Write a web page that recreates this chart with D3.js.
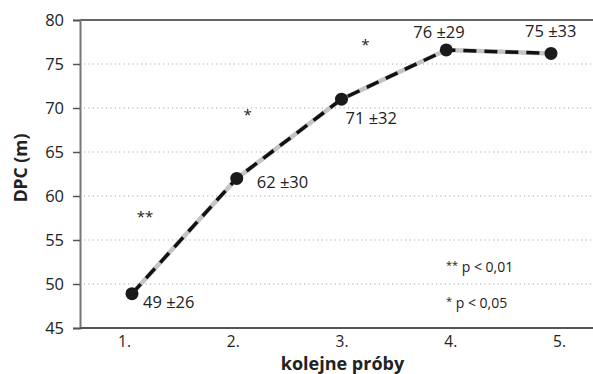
<!DOCTYPE html>
<html><head><meta charset="utf-8">
<script src="https://cdn.jsdelivr.net/npm/d3@7"></script>
<style>body{margin:0;background:#fff}svg{display:block}text{font-family:"Open Sans","Noto Sans",sans-serif;fill:#222}</style>
</head><body>
<svg id="c" width="593" height="374"></svg>
<script>
const categories = ["1.", "2.", "3.", "4.", "5."];
const values = [48.9, 62, 71, 76.6, 76.2];
const labels = ["49 ±26", "62 ±30", "71 ±32", "76 ±29", "75 ±33"];
const yTicks = [45, 50, 55, 60, 65, 70, 75, 80];
const stars = ["**", "*", "*"];
const starValues = [58, 69.5, 77.5];
const legendStars = ["**", "*"];
const legendTexts = [" p < 0,01", " p < 0,05"];

(function () {
const svg = d3.select("#c");
const mLeft = 80, mRight = 593, mTop = 20, mBottom = 328;
const x = d3.scalePoint().domain(categories).range([132, 551]);
const y = d3.scaleLinear().domain([45, 80]).range([mBottom, mTop]);

// gridlines
svg.append("g").selectAll("line").data(yTicks.filter(t => t > 45 && t < 80)).join("line")
  .attr("x1", mLeft + 4).attr("x2", mRight).attr("y1", d => y(d)).attr("y2", d => y(d))
  .attr("stroke", "#a8a8a8").attr("stroke-width", 1.2).attr("stroke-dasharray", "1.2,3.2");

// top line
svg.append("line").attr("x1", mLeft).attr("x2", mRight).attr("y1", y(80)).attr("y2", y(80))
  .attr("stroke", "#333").attr("stroke-width", 1.5);

// y axis
const yAxis = d3.axisLeft(y).tickValues(yTicks).tickSize(7).tickPadding(9);
const gy = svg.append("g").attr("transform", `translate(${mLeft},0)`).call(yAxis);
gy.select(".domain").attr("stroke", "#777").attr("stroke-width", 2);
gy.selectAll(".tick line").attr("stroke", "#555").attr("stroke-width", 1.5);
gy.selectAll(".tick text").style("font-size", "16.5px").attr("fill", "#333");

// x axis
svg.append("line").attr("x1", mLeft).attr("x2", mRight).attr("y1", mBottom).attr("y2", mBottom)
  .attr("stroke", "#555").attr("stroke-width", 2);
svg.append("g").selectAll("text").data(categories).join("text")
  .attr("x", (d, i) => x(d) - 7.5 + i * 4).attr("y", mBottom + 19)
  .attr("text-anchor", "middle").style("font-size", "15.5px").attr("fill", "#333").text(d => d);

// line
const pts = categories.map((c, i) => [x(c), y(values[i])]);
const line = d3.line();
svg.append("path").attr("d", line(pts)).attr("fill", "none")
  .attr("stroke", "#c4c4c4").attr("stroke-width", 4.5);
svg.append("path").attr("d", line(pts)).attr("fill", "none")
  .attr("stroke", "#111").attr("stroke-width", 3.5).attr("stroke-dasharray", "13,8");
svg.append("g").selectAll("circle").data(pts).join("circle")
  .attr("cx", d => d[0]).attr("cy", d => d[1]).attr("r", 6.5).attr("fill", "#1a1a1a");

// value labels
const lblOff = [[11, 14], [20, 10], [4, 25], [-33, -12], [-26, -16]];
svg.append("g").selectAll("text").data(labels).join("text")
  .attr("x", (d, i) => pts[i][0] + lblOff[i][0]).attr("y", (d, i) => pts[i][1] + lblOff[i][1])
  .style("font-size", "16.5px").attr("fill", "#222").text(d => d);

// stars between points
const starX = [x("1.") + 13, x("2.") + 11, x("3.") + 24];
svg.append("g").selectAll("text").data(stars).join("text")
  .attr("x", (d, i) => starX[i]).attr("y", (d, i) => y(starValues[i]) + 8)
  .attr("text-anchor", "middle").style("font-size", "15px").attr("fill", "#222").text(d => d);

// legend
const lg = svg.append("g").selectAll("text").data(legendTexts).join("text")
  .attr("x", 446).attr("y", (d, i) => 272 + i * 36)
  .style("font-size", "14px").attr("fill", "#222");
lg.append("tspan").style("font-size", "11px").attr("dy", -3).text((d, i) => legendStars[i]);
lg.append("tspan").attr("dy", 3).text(d => d);

// axis titles
svg.append("text").attr("x", (mLeft + mRight) / 2 + 6).attr("y", 370).attr("text-anchor", "middle")
  .style("font-size", "18px").style("font-weight", "bold").attr("fill", "#111").text("kolejne próby");
svg.append("text").attr("transform", `translate(27,${(mTop + mBottom) / 2 - 6}) rotate(-90)`)
  .attr("text-anchor", "middle").style("font-size", "17.5px").style("font-weight", "bold")
  .attr("fill", "#111").text("DPC (m)");
})();
</script>
</body></html>
